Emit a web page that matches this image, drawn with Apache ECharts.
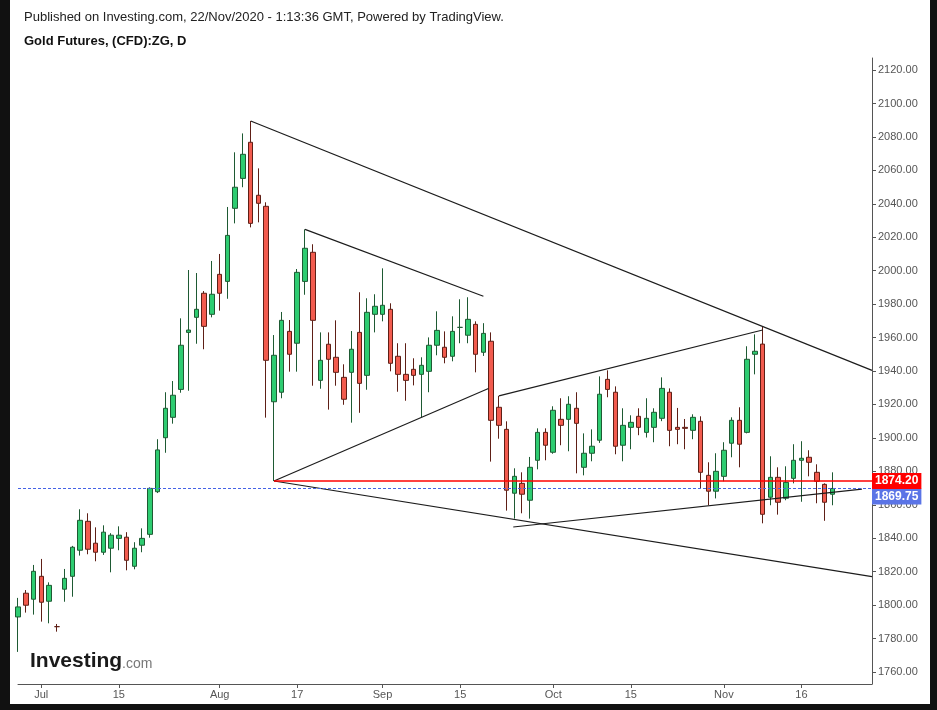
<!DOCTYPE html>
<html><head><meta charset="utf-8">
<script src="https://cdn.jsdelivr.net/npm/echarts@6/dist/echarts.min.js"></script>
<style>html,body{margin:0;padding:0;background:#fff}#c{width:937px;height:710px}</style>
</head><body><div id="c"></div>
<script>
// trading days (2020), one candle each
const dates = [
'06-26','06-29','06-30',
'07-01','07-02','07-03','07-06','07-07','07-08','07-09','07-10','07-13','07-14','07-15','07-16','07-17','07-20','07-21','07-22','07-23','07-24','07-27','07-28','07-29','07-30','07-31',
'08-03','08-04','08-05','08-06','08-07','08-10','08-11','08-12','08-13','08-14','08-17','08-18','08-19','08-20','08-21','08-24','08-25','08-26','08-27','08-28','08-31',
'09-01','09-02','09-03','09-04','09-07','09-08','09-09','09-10','09-11','09-14','09-15','09-16','09-17','09-18','09-21','09-22','09-23','09-24','09-25','09-28','09-29','09-30',
'10-01','10-02','10-05','10-06','10-07','10-08','10-09','10-12','10-13','10-14','10-15','10-16','10-19','10-20','10-21','10-22','10-23','10-26','10-27','10-28','10-29','10-30',
'11-02','11-03','11-04','11-05','11-06','11-09','11-10','11-11','11-12','11-13','11-16','11-17','11-18','11-19','11-20'];

const opens = [1792.9,1807.1,1803.5,1817.2,1802.3,1787.1,1809.5,1817.2,1832.8,1850.1,1837.0,1831.6,1834.0,1839.9,1840.6,1823.2,1835.8,1842.3,1867.8,1900.1,
1912.3,1929.0,1963.1,1972.1,1986.5,1973.9,1997.8,1993.6,2037.3,2055.2,2076.8,2045.1,2038.5,1921.6,1927.3,1963.7,1956.6,1993.6,2011.0,1934.4,
1956.0,1948.2,1936.2,1939.2,1963.1,1937.4,1973.9,1973.9,1976.9,1948.8,1938.0,1941.0,1938.0,1939.8,1955.4,1954.2,1948.8,1966.1,1961.4,1967.9,
1951.2,1957.8,1918.3,1905.1,1866.9,1872.8,1862.7,1886.6,1903.3,1891.4,1911.1,1911.1,1917.7,1882.4,1890.8,1898.6,1935.0,1927.3,1895.6,1906.3,
1912.9,1903.3,1906.3,1911.7,1927.3,1906.3,1906.3,1904.5,1909.9,1877.6,1868.1,1877.0,1896.8,1910.5,1903.3,1950.0,1956.1,1864.5,1876.4,1863.9,
1875.8,1886.6,1888.4,1879.4,1872.2,1866.3];
const closes = [1798.9,1799.9,1820.2,1801.7,1811.8,1787.1,1816.0,1834.6,1850.7,1833.4,1831.6,1843.6,1841.8,1841.8,1826.8,1834.0,1839.9,1869.8,1892.8,1917.7,
1925.5,1955.4,1964.5,1976.9,1966.7,1985.9,1986.5,2021.1,2049.9,2069.6,2028.3,2040.3,1946.4,1949.4,1970.3,1950.0,1999.0,2013.4,1970.3,1946.4,
1947.0,1939.2,1923.1,1953.0,1932.6,1975.1,1978.7,1979.3,1944.6,1938.0,1934.4,1937.4,1943.4,1955.4,1964.3,1948.2,1963.7,1966.1,1970.9,1950.0,
1962.5,1910.5,1907.5,1868.7,1877.0,1866.3,1882.4,1903.3,1895.6,1916.5,1907.5,1920.1,1908.7,1890.8,1895.0,1926.1,1929.0,1895.0,1907.5,1909.3,
1906.3,1911.7,1915.3,1929.6,1904.5,1905.1,1905.7,1912.3,1879.4,1868.1,1880.0,1892.6,1910.5,1896.2,1947.0,1951.8,1854.3,1876.4,1861.5,1873.4,
1886.6,1887.8,1885.4,1874.0,1861.5,1869.75];
const lows = [1772.0,1795.5,1794.3,1790.1,1789.1,1784.1,1802.0,1805.0,1829.6,1830.4,1826.2,1830.0,1819.6,1832.8,1820.8,1821.4,1831.6,1840.3,1867.0,1891.1,
1908.5,1927.0,1928.2,1956.3,1953.0,1972.1,1976.1,1983.2,2028.3,2049.9,2025.9,2028.9,1912.1,1874.2,1923.7,1939.6,1939.6,1985.6,1931.2,1929.4,
1916.9,1931.2,1919.8,1909.1,1915.0,1928.8,1963.1,1969.7,1939.8,1927.6,1922.2,1931.4,1912.3,1927.3,1949.4,1944.6,1945.8,1956.6,1956.6,1939.2,
1949.0,1885.8,1899.5,1856.5,1851.7,1854.9,1851.7,1881.2,1886.6,1890.5,1895.6,1892.0,1878.8,1877.6,1886.0,1897.0,1924.3,1890.2,1886.0,1893.2,
1901.6,1900.2,1897.4,1910.0,1895.0,1896.2,1893.2,1899.2,1869.8,1859.7,1863.8,1874.0,1888.4,1882.4,1902.7,1938.0,1848.9,1859.7,1854.1,1862.7,
1872.8,1861.8,1877.0,1860.9,1850.4,1859.7];
const highs = [1804.3,1809.0,1824.0,1827.6,1813.6,1788.7,1821.6,1835.4,1857.3,1854.9,1846.5,1847.7,1843.0,1847.1,1843.6,1837.6,1845.9,1870.4,1899.2,1927.3,
1934.0,1971.5,2000.4,1998.6,1987.8,2005.8,2010.0,2038.1,2070.8,2082.1,2089.5,2061.2,2040.9,1961.5,1975.3,1970.5,2001.0,2024.7,2015.8,1963.1,
1963.1,1970.3,1944.0,1963.9,1987.1,1983.5,1985.9,2001.4,1980.5,1956.6,1956.6,1947.6,1948.2,1960.1,1975.7,1963.7,1972.7,1982.9,1984.1,1969.7,
1968.6,1963.1,1925.1,1909.9,1881.8,1879.4,1888.6,1905.7,1905.7,1918.9,1923.7,1924.9,1927.3,1902.7,1905.1,1936.8,1940.4,1930.8,1917.7,1913.5,
1917.7,1923.7,1917.7,1936.2,1929.6,1917.9,1911.3,1914.1,1912.9,1885.4,1890.8,1897.4,1912.3,1918.3,1954.8,1961.9,1966.5,1889.0,1882.4,1883.0,
1896.2,1898.0,1892.6,1884.2,1872.8,1879.4];

const tickDates  = ['07-01','07-15','08-03','08-17','09-01','09-15','10-01','10-15','11-02','11-16'];
const tickLabels = ['Jul','15','Aug','17','Sep','15','Oct','15','Nov','16'];
const yTicks = [1760,1780,1800,1820,1840,1860,1880,1900,1920,1940,1960,1980,2000,2020,2040,2060,2080,2100,2120];

const supportLevel = 1874.20;
const lastPrice = 1869.75;
// drawn trend lines: [[dayIndex, price], [dayIndex, price]]
const trendLines = [
  [[30, 2089.5], [110.1, 1940.4]],
  [[37, 2024.7], [60, 1984.7]],
  [[33, 1874.2], [60.65, 1929.5]],
  [[33, 1874.2], [110.1, 1817.0]],
  [[63.85, 1846.7], [108.8, 1869.3]],
  [[62, 1925.1], [96, 1964.5]]
];
const supportStart = 33;
const xMax = 110.1;

const FONT = 'Arial, "Liberation Sans", sans-serif';
const tickIdx = tickDates.map(d => dates.indexOf(d));
const labelMap = {};
tickIdx.forEach((v, k) => { labelMap[v] = tickLabels[k]; });
const candles = dates.map((d, i) => [i, opens[i], closes[i], lows[i], highs[i]]);

const series = [{
  type: 'candlestick',
  data: candles,
  barWidth: 5,
  clip: true,
  silent: true,
  itemStyle: { color: '#2ecc71', color0: '#f25b4e', borderColor: '#1e5a33', borderColor0: '#5e1f16', borderWidth: 1 },
  markLine: {
    symbol: 'none', silent: true, animation: false,
    data: [
      { yAxis: lastPrice, lineStyle: { color: '#4563e6', type: [3, 2], width: 1 },
        label: { show: true, position: 'end', distance: 0, formatter: lastPrice.toFixed(2), backgroundColor: '#5a74e6', color: '#fff', fontWeight: 'bold', fontSize: 12, fontFamily: FONT, padding: [2, 3, 2, 3], offset: [0, 8] } },
      [
        { coord: [supportStart, supportLevel], lineStyle: { color: '#ff0000', type: 'solid', width: 1.5 },
          label: { show: true, position: 'end', distance: 0, formatter: supportLevel.toFixed(2), backgroundColor: '#ff0000', color: '#fff', fontWeight: 'bold', fontSize: 12, fontFamily: FONT, padding: [2, 3, 2, 3] } },
        { coord: [xMax, supportLevel], lineStyle: { color: '#ff0000', type: 'solid', width: 1.5 } }
      ]
    ]
  }
}];
trendLines.forEach(seg => {
  series.push({ type: 'line', data: seg, symbol: 'none', silent: true, animation: false, clip: true,
    lineStyle: { color: '#1c1c1c', width: 1.2 }, z: 4 });
});

const chart = echarts.init(document.getElementById('c'));
chart.setOption({
  animation: false,
  backgroundColor: '#fff',
  grid: { left: 18, right: 65, top: 58, bottom: 26 },
  xAxis: {
    type: 'value', min: 0, max: xMax,
    axisLine: { show: true, onZero: false, lineStyle: { color: '#555', width: 1 } },
    axisTick: { show: true, customValues: tickIdx, length: 4, lineStyle: { color: '#555' } },
    axisLabel: { show: true, customValues: tickIdx, formatter: v => labelMap[v] || '', color: '#555', fontSize: 11, fontFamily: FONT, margin: 5 },
    splitLine: { show: false }
  },
  yAxis: {
    type: 'value', position: 'right', min: 1752.8, max: 2127.2, scale: true,
    axisLine: { show: true, onZero: false, lineStyle: { color: '#555', width: 1 } },
    axisTick: { show: true, customValues: yTicks, length: 4, lineStyle: { color: '#555' } },
    axisLabel: { show: true, customValues: yTicks, formatter: v => v.toFixed(2), color: '#555', fontSize: 11, fontFamily: FONT, margin: 6 },
    splitLine: { show: false }
  },
  series: series,
  graphic: [
    { type: 'text', silent: true, style: { x: 24, y: 17, text: 'Published on Investing.com, 22/Nov/2020 - 1:13:36 GMT, Powered by TradingView.', font: '13px ' + FONT, fill: '#222', verticalAlign: 'middle' } },
    { type: 'text', silent: true, style: { x: 24, y: 41, text: 'Gold Futures, (CFD):ZG, D', font: 'bold 13px ' + FONT, fill: '#111', verticalAlign: 'middle' } },
    { type: 'text', silent: true, z: 10, style: { x: 30, y: 661, text: 'Investing', font: 'bold 21px ' + FONT, fill: '#1a1a1a', verticalAlign: 'middle' } },
    { type: 'text', silent: true, z: 10, style: { x: 122, y: 664, text: '.com', font: '14px ' + FONT, fill: '#777', verticalAlign: 'middle' } },
    { type: 'rect', silent: true, z: 20, shape: { x: 0, y: 0, width: 10, height: 710 }, style: { fill: '#111' } },
    { type: 'rect', silent: true, z: 20, shape: { x: 930, y: 0, width: 7, height: 710 }, style: { fill: '#111' } },
    { type: 'rect', silent: true, z: 20, shape: { x: 0, y: 704, width: 937, height: 6 }, style: { fill: '#111' } }
  ]
});
</script></body></html>
